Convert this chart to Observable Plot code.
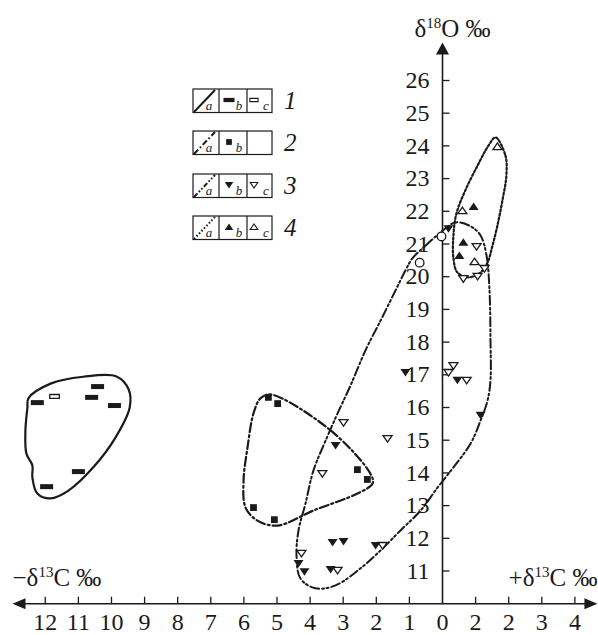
<!DOCTYPE html>
<html><head><meta charset="utf-8">
<script src="https://cdn.jsdelivr.net/npm/d3@7"></script>
<script src="https://cdn.jsdelivr.net/npm/@observablehq/plot@0.6"></script>
<style>
body{margin:0;background:#fff;}
#wrap{position:relative;width:598px;height:635px;}
svg text{font-family:"Liberation Serif","Times New Roman",serif;}
#legend{position:absolute;left:0;top:0;pointer-events:none;}
</style></head><body><div id="wrap"></div>
<script>
// ---------- data ----------
const xTickValues = [-12,-11,-10,-9,-8,-7,-6,-5,-4,-3,-2,-1,0,1,2,3,4];
const xTickLabels = ["12","11","10","9","8","7","6","5","4","3","2","1","0","2","2","3","4"];
const yTickValues = [11,12,13,14,15,16,17,18,19,20,21,22,23,24,25,26];
const yTickLabels = ["11","12","13","14","15","16","17","18","19","20","21","22","23","24","25","26"];

// group 1: bars (b filled, c open)
const group1Filled = [[-10.42,16.64],[-12.24,16.15],[-10.60,16.31],[-9.91,16.06],[-11.0,14.04],[-11.96,13.58]];
const group1Open = [[-11.72,16.34]];
const group1Outline = [[-12.51,16.28],[-11.84,16.73],[-10.85,16.94],[-9.85,16.95],[-9.48,16.55],[-9.45,16.0],[-9.88,15.08],[-10.55,14.17],[-11.30,13.46],[-11.84,13.22],[-12.24,13.37],[-12.39,13.86],[-12.39,14.23],[-12.57,14.59],[-12.60,15.30],[-12.54,16.0]];

// group 2: squares
const group2Filled = [[-5.26,16.31],[-4.98,16.12],[-2.57,14.10],[-2.27,13.80],[-5.71,12.94],[-5.08,12.57]];
const group2Outline = [[-5.20,16.40],[-3.38,15.30],[-2.18,13.98],[-2.11,13.68],[-2.57,13.37],[-3.90,12.85],[-4.98,12.39],[-5.59,12.54],[-5.95,12.94],[-6.01,13.77],[-5.89,14.78],[-5.71,15.82],[-5.50,16.28]];

// group 3: down triangles
const group3Filled = [[-3.32,11.87],[-2.99,11.90],[-4.35,11.23],[-4.17,10.98],[-3.38,11.05],[-2.02,11.78],[-3.23,14.84],[-1.12,17.07],[0.45,16.83],[1.15,15.76],[0.18,21.47]];
const group3Open = [[-4.26,11.54],[-3.17,11.02],[-1.81,11.78],[-2.99,15.54],[-1.66,15.05],[-3.63,13.98],[0.33,17.28],[0.18,17.07],[0.73,16.83],[1.03,20.92],[1.27,20.25],[0.63,19.94],[1.06,20.01]];
const group3Outline = [[-0.91,20.56],[-0.51,20.95],[-0.06,21.35],[0.39,21.66],[0.85,21.54],[1.15,21.26],[1.33,20.65],[1.42,19.58],[1.45,18.05],[1.45,16.83],[1.36,16.21],[1.15,15.60],[0.85,14.90],[0.33,14.17],[-0.15,13.55],[-0.66,12.85],[-1.27,12.24],[-1.87,11.63],[-2.48,11.08],[-3.23,10.56],[-3.84,10.47],[-4.29,10.77],[-4.41,11.47],[-4.35,12.24],[-4.14,13.06],[-3.90,14.07],[-3.53,14.99],[-3.17,15.82],[-2.78,16.67],[-2.33,17.74],[-1.87,18.66],[-1.42,19.58],[-1.12,20.19]];

// group 4: up triangles
const group4Filled = [[0.94,22.15],[0.63,21.05],[0.51,20.65]];
const group4Open = [[0.60,22.02],[1.66,23.98],[0.97,20.46]];
const group4Outline = [[1.60,24.26],[1.90,23.71],[1.93,23.10],[1.81,22.33],[1.66,21.57],[1.51,20.95],[1.36,20.43],[1.15,20.13],[0.79,19.98],[0.45,20.13],[0.33,20.56],[0.33,21.26],[0.42,21.93],[0.69,22.64],[1.06,23.40],[1.39,24.01]];

const openCircles = [[-0.03,21.23],[-0.69,20.43]];

const legendRows = ["1","2","3","4"];

// ---------- symbols ----------
const INK = "#1a1a1a";
const sym = f => ({draw: f});
const barFilled = sym(c => { c.rect(-6.5,-2.5,13,5); });
const barOpen = sym(c => { c.rect(-4.8,-1.9,9.6,3.8); });
const square = sym(c => { c.rect(-3.4,-3.4,6.8,6.8); });
const triDownF = sym(c => { c.moveTo(-5,-3.5); c.lineTo(5,-3.5); c.lineTo(0,4); c.closePath(); });
const triDownO = sym(c => { c.moveTo(-4.5,-3); c.lineTo(4.5,-3); c.lineTo(0,3.6); c.closePath(); });
const triUpF = sym(c => { c.moveTo(-5,3.5); c.lineTo(5,3.5); c.lineTo(0,-4); c.closePath(); });
const triUpO = sym(c => { c.moveTo(-4.5,3); c.lineTo(4.5,3); c.lineTo(0,-3.6); c.closePath(); });
const arrowLeft = sym(c => { c.moveTo(0,0); c.lineTo(13,-5.5); c.lineTo(13,5.5); c.closePath(); });
const arrowRight = sym(c => { c.moveTo(0,0); c.lineTo(-13,-5.5); c.lineTo(-13,5.5); c.closePath(); });
const arrowUp = sym(c => { c.moveTo(0,0); c.lineTo(-6.5,12); c.lineTo(6.5,12); c.closePath(); });
const tickUp = sym(c => { c.moveTo(0,0); c.lineTo(0,-7); });
const tickRight = sym(c => { c.moveTo(0,0); c.lineTo(7,0); });

const dash2 = "9,3,2,3";
const dash3 = "9,3,2,2.5,2,3";
const dash4 = "2,2.2";

const xLeft = -12.99, xRight = 4.68, yTop = 27.16, yAxis = 10;
const X = d => d[0], Y = d => d[1];

const plot = Plot.plot({
  width: 598, height: 635,
  marginTop: 0, marginRight: 0, marginBottom: 0, marginLeft: 0,
  x: {domain: [-13.353, 4.713], range: [0, 598], axis: null},
  y: {domain: [9.028, 28.446], range: [635, 0], axis: null},
  style: {fontFamily: "Liberation Serif, serif", background: "#fff", color: INK},
  marks: [
    // axes
    Plot.ruleY([yAxis], {x1: () => xLeft + 0.3, x2: () => xRight - 0.3, stroke: INK, strokeWidth: 1.6}),
    Plot.ruleX([0], {y1: () => yAxis, y2: () => yTop - 0.3, stroke: INK, strokeWidth: 1.6}),
    Plot.dot([[xLeft, yAxis]], {x: X, y: Y, symbol: arrowLeft, fill: INK, stroke: "none"}),
    Plot.dot([[xRight, yAxis]], {x: X, y: Y, symbol: arrowRight, fill: INK, stroke: "none"}),
    Plot.dot([[0, yTop]], {x: X, y: Y, symbol: arrowUp, fill: INK, stroke: "none"}),
    Plot.dot(xTickValues.filter(v => v !== 0), {x: d => d, y: () => yAxis, symbol: tickUp, stroke: INK, strokeWidth: 1.3, fill: "none"}),
    Plot.dot(yTickValues, {x: () => 0, y: d => d, symbol: tickRight, stroke: INK, strokeWidth: 1.3, fill: "none"}),
    Plot.text(xTickValues, {x: d => d, y: () => yAxis, text: (d, i) => xTickLabels[i], dy: 18.5, fontSize: 24, fill: INK}),
    Plot.text(yTickValues, {x: () => 0, y: d => d, text: (d, i) => yTickLabels[i], dx: -13, textAnchor: "end", fontSize: 24, fill: INK}),
    Plot.text(["δ^18^O ‰"], {x: () => 0, y: () => yTop, dx: 10, dy: -14, fontSize: 25, fill: INK}),
    Plot.text(["−δ^13^C ‰"], {x: () => xLeft, y: () => yAxis, dx: 0, dy: -26, textAnchor: "start", fontSize: 25, fill: INK}),
    Plot.text(["+δ^13^C ‰"], {x: () => xRight, y: () => yAxis, dx: 0, dy: -26, textAnchor: "end", fontSize: 25, fill: INK}),

    // outlines
    Plot.line(group1Outline, {x: X, y: Y, curve: "catmull-rom-closed", stroke: INK, strokeWidth: 2.2}),
    Plot.line(group2Outline, {x: X, y: Y, curve: "catmull-rom-closed", stroke: INK, strokeWidth: 2.2, strokeDasharray: dash2}),
    Plot.line(group3Outline, {x: X, y: Y, curve: "catmull-rom-closed", stroke: INK, strokeWidth: 2, strokeDasharray: dash3}),
    Plot.line(group4Outline, {x: X, y: Y, curve: "catmull-rom-closed", stroke: INK, strokeWidth: 2.2, strokeDasharray: dash4}),

    // points
    Plot.dot(group1Filled, {x: X, y: Y, symbol: barFilled, fill: INK, stroke: "none"}),
    Plot.dot(group1Open, {x: X, y: Y, symbol: barOpen, fill: "#fff", stroke: INK, strokeWidth: 1.3}),
    Plot.dot(group2Filled, {x: X, y: Y, symbol: square, fill: INK, stroke: "none"}),
    Plot.dot(group3Open, {x: X, y: Y, symbol: triDownO, fill: "#fff", stroke: INK, strokeWidth: 1.3}),
    Plot.dot(group3Filled, {x: X, y: Y, symbol: triDownF, fill: INK, stroke: "none"}),
    Plot.dot(group4Open, {x: X, y: Y, symbol: triUpO, fill: "#fff", stroke: INK, strokeWidth: 1.3}),
    Plot.dot(group4Filled, {x: X, y: Y, symbol: triUpF, fill: INK, stroke: "none"}),
    Plot.dot(openCircles, {x: X, y: Y, r: 4.3, fill: "#fff", stroke: INK, strokeWidth: 1.3})
  ]
});

// superscripts
plot.querySelectorAll("text").forEach(t => {
  const s = t.textContent;
  if (!s.includes("^")) return;
  const parts = s.split("^");
  t.textContent = "";
  parts.forEach((p, i) => {
    const ts = document.createElementNS("http://www.w3.org/2000/svg", "tspan");
    ts.textContent = p;
    if (i % 2 === 1) { ts.setAttribute("font-size", "15"); ts.setAttribute("dy", "-9"); }
    else if (i > 0) { ts.setAttribute("dy", "9"); }
    t.appendChild(ts);
  });
});

const wrap = document.getElementById("wrap");
wrap.appendChild(plot);

// ---------- legend overlay ----------
const lg = d3.select(wrap).append("svg").attr("id", "legend").attr("width", 598).attr("height", 635);
const rowTops = [89, 131, 174, 216];
const colX = [193, 219, 247, 272];
const rowH = 23.5;
const lineStyles = [null, dash2, dash3, dash4];
const legSym = [[barFilled, barOpen], [square, null], [triDownF, triDownO], [triUpF, triUpO]];
legendRows.forEach((lab, i) => {
  const t = rowTops[i];
  const gg = lg.append("g");
  gg.append("rect").attr("x", colX[0]).attr("y", t).attr("width", colX[3] - colX[0]).attr("height", rowH)
    .attr("fill", "#fff").attr("stroke", INK).attr("stroke-width", 1.2);
  [1, 2].forEach(k => gg.append("line").attr("x1", colX[k]).attr("x2", colX[k]).attr("y1", t).attr("y2", t + rowH).attr("stroke", INK).attr("stroke-width", 1.2));
  const ln = gg.append("line").attr("x1", colX[0] + 1).attr("y1", t + rowH - 0.5).attr("x2", colX[0] + 22).attr("y2", t + 1)
    .attr("stroke", INK).attr("stroke-width", 2);
  if (lineStyles[i]) ln.attr("stroke-dasharray", i === 3 ? "1.6,2" : (i === 1 ? "6,2.5,1.6,2.5" : "5,2,1.6,2,1.6,2"));
  const letters = ["a", "b", "c"];
  const symX = [null, 229, 254];
  legSym[i].forEach((s, k) => {
    if (!s) return;
    gg.append("path").attr("d", d3.symbol().type(s)())
      .attr("transform", `translate(${symX[k + 1]},${t + 11}) scale(0.85)`)
      .attr("fill", k === 0 ? INK : "#fff").attr("stroke", k === 0 ? "none" : INK).attr("stroke-width", 1.3);
  });
  const lx = [209, 239, 266];
  letters.forEach((L, k) => {
    if (i === 1 && k === 2) return;
    gg.append("text").attr("x", lx[k]).attr("y", t + 20.5).attr("text-anchor", "middle")
      .attr("font-style", "italic").attr("font-size", 13).attr("fill", INK).text(L);
  });
  gg.append("text").attr("x", 284).attr("y", t + 20).attr("font-style", "italic")
    .attr("font-size", 25).attr("fill", INK).text(lab);
});
</script></body></html>
